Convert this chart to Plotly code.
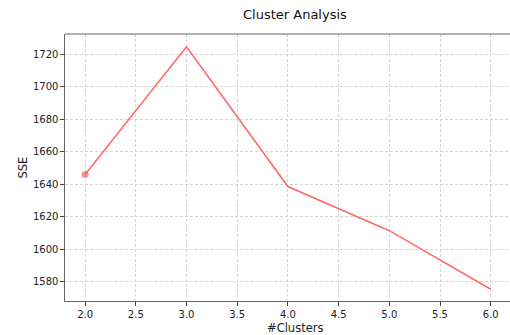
import plotly.graph_objects as go

clusters = [2, 3, 4, 5, 6]
sse = [1646.0, 1724.5, 1638.6, 1611.5, 1575.5]
marker_sizes = [7, 0, 0, 0, 0]

fig = go.Figure()
fig.add_trace(go.Scatter(
    x=clusters, y=sse, mode="lines+markers",
    line=dict(color="#ff6b6b", width=1.6),
    marker=dict(color="#ff5f5f", size=marker_sizes, line=dict(width=0)),
    showlegend=False,
))

axis_common = dict(
    showgrid=True, gridcolor="#d4d4d4", griddash="3px,2px", gridwidth=0.8,
    zeroline=False, ticks="outside", ticklen=3.5, tickwidth=0.8, tickcolor="#444",
    tickfont=dict(family="DejaVu Sans", size=10, color="#222"),
    showline=True, linecolor="#666", linewidth=1.2, automargin=False,
)

fig.update_layout(
    width=510, height=335,
    margin=dict(l=65, r=0, t=34, b=34, autoexpand=False),
    paper_bgcolor="white", plot_bgcolor="white",
    xaxis=dict(range=[1.802, 6.19], tickvals=[2, 2.5, 3, 3.5, 4, 4.5, 5, 5.5, 6],
               ticktext=["2.0", "2.5", "3.0", "3.5", "4.0", "4.5", "5.0", "5.5", "6.0"],
               **axis_common),
    yaxis=dict(range=[1568.3, 1732.3], tickvals=[1580, 1600, 1620, 1640, 1660, 1680, 1700, 1720],
               **axis_common),
)
fig.add_annotation(text="Cluster Analysis", xref="paper", yref="paper", x=0.516, y=1,
                   yshift=20, xanchor="center", yanchor="middle", showarrow=False,
                   font=dict(family="DejaVu Sans", size=13, color="#111"))
fig.add_annotation(text="#Clusters", xref="paper", yref="paper", x=0.516, y=0,
                   yshift=-27, xanchor="center", yanchor="middle", showarrow=False,
                   font=dict(family="DejaVu Sans", size=11.5, color="#222"))
fig.add_annotation(text="SSE", xref="paper", yref="paper", x=0, y=0.5,
                   xshift=-43, xanchor="center", yanchor="middle", showarrow=False, textangle=-90,
                   font=dict(family="DejaVu Sans", size=11.5, color="#222"))
# top spine
fig.add_shape(type="line", xref="paper", yref="paper", x0=0, x1=1, y0=1, y1=1,
              line=dict(color="#666", width=1.2))

fig.write_html("out.html", config={"displayModeBar": False},
               post_script="document.body.style.margin='0';document.body.style.overflow='hidden';")
